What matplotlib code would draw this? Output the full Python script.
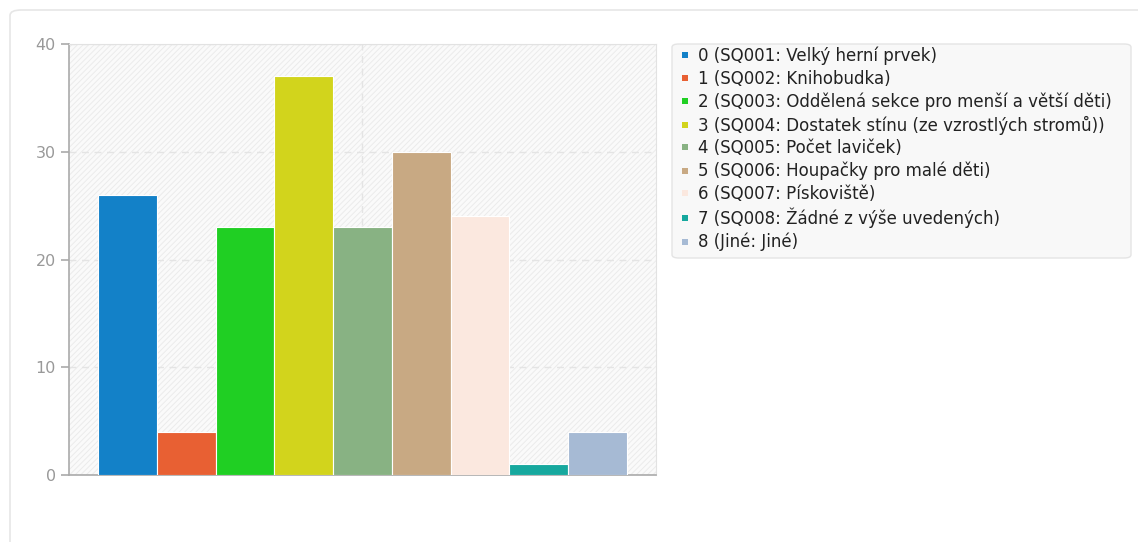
import matplotlib.pyplot as plt
from matplotlib.patches import FancyBboxPatch, Rectangle
from matplotlib.lines import Line2D

labels = ['0 (SQ001: Velký herní prvek)',
          '1 (SQ002: Knihobudka)',
          '2 (SQ003: Oddělená sekce pro menší a větší děti)',
          '3 (SQ004: Dostatek stínu (ze vzrostlých stromů))',
          '4 (SQ005: Počet laviček)',
          '5 (SQ006: Houpačky pro malé děti)',
          '6 (SQ007: Pískoviště)',
          '7 (SQ008: Žádné z výše uvedených)',
          '8 (Jiné: Jiné)']
counts = [26, 4, 23, 37, 23, 30, 24, 1, 4]
colors = ['#1381c8', '#e86033', '#20cf23', '#d2d41c', '#88b283',
          '#c8a983', '#fbe8df', '#16a89e', '#a6bad4']

W, H = 1138, 542
plt.rcParams['hatch.linewidth'] = 0.7
fig = plt.figure(figsize=(W / 100, H / 100), dpi=100)

# outer card
card = FancyBboxPatch((10 / W, -0.1), 1.2, 1.1 - 10 / H,
                      boxstyle='round,pad=0,rounding_size=0.01',
                      transform=fig.transFigure, facecolor='white',
                      edgecolor='#e6e6e6', linewidth=1.2, zorder=-5)
fig.patches.append(card)

ax = fig.add_axes([69 / W, 1 - 475 / H, 587 / W, 431 / H])
ax.set_facecolor('#fafafa')
ax.add_patch(Rectangle((0, 0), 1, 1, transform=ax.transAxes, facecolor='none',
                       edgecolor='#ebebeb', hatch='//////', linewidth=0, zorder=0))

x = range(len(counts))
bars = ax.bar(x, counts, width=1, color=colors, edgecolor='white', linewidth=0.8,
              zorder=3)

ax.set_xlim(-1, 9)
ax.set_ylim(0, 40)
ax.set_yticks([0, 10, 20, 30, 40])
ax.set_xticks([4])
ax.set_xticklabels([])
ax.tick_params(axis='x', length=0)
ax.tick_params(axis='y', colors='#aaaaaa', labelcolor='#999999', labelsize=11.5,
               length=6, width=1.2)
ax.grid(True, color='#e4e4e4', linestyle=(0, (5, 4)), linewidth=1, zorder=1)
for s in ['left', 'bottom']:
    ax.spines[s].set_color('#aaaaaa')
    ax.spines[s].set_linewidth(1.2)
for s in ['top', 'right']:
    ax.spines[s].set_color('#e2e2e2')

# legend box drawn separately so it can be as wide as in the original
legbox = FancyBboxPatch((672 / W, 1 - 258 / H), (1131 - 672) / W, (258 - 44) / H,
                        boxstyle='round,pad=0,rounding_size=0.006',
                        transform=fig.transFigure, facecolor='#f8f8f8',
                        edgecolor='#e4e4e4', linewidth=1, zorder=-1)
fig.patches.append(legbox)

handles = [Line2D([], [], linestyle='none', marker='s', markersize=4.7,
                  markerfacecolor=c, markeredgewidth=0) for c in colors]
leg = fig.legend(handles=handles, labels=labels, loc='upper left',
                 bbox_to_anchor=(672 / W, 1 - 44 / H), borderaxespad=0,
                 fontsize=12, handlelength=1.2, handletextpad=0.2,
                 labelspacing=0.28, borderpad=0.15, frameon=False)
for t in leg.get_texts():
    t.set_color('#222222')

fig.savefig('out.png', dpi=100)
